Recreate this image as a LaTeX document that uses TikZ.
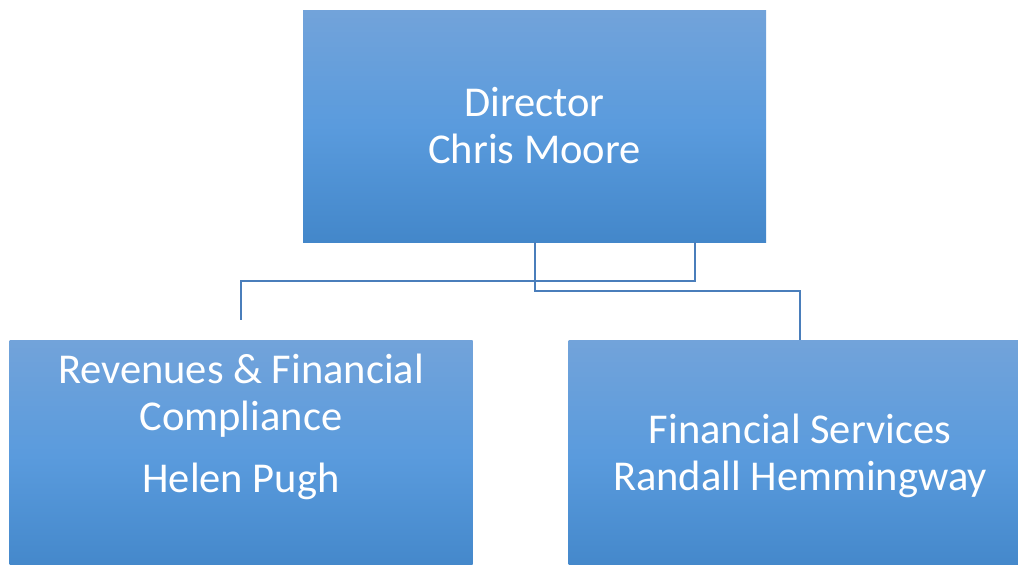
\documentclass[tikz,border=0pt]{standalone}
\usepackage{fontspec}
\setmainfont{Carlito}
\usetikzlibrary{positioning}
\definecolor{boxtop}{HTML}{72A3DA}
\definecolor{boxmid}{HTML}{5A9BDD}
\definecolor{boxbot}{HTML}{4387CA}
\definecolor{linkblue}{HTML}{4A7EBB}

\begin{document}
\begin{tikzpicture}[x=1pt,y=-1pt,
  orgbox/.style={rectangle, inner sep=0pt, minimum width=463pt, minimum height=232pt,
    top color=boxtop, bottom color=boxbot, middle color=boxmid,
    text=white, align=center, font=\fontsize{42.5}{47}\selectfont},
  orglabel/.style={inner sep=0pt, text=white, align=center, font=\fontsize{42.5}{47}\selectfont},
  link/.style={draw=linkblue, line width=2pt}]
\useasboundingbox (0,0) rectangle (1018,565);
\node[orgbox] (dir) at (534.5,126) {Director\\Chris Moore};
\node[orgbox] (rev) at (241,456) {};
\node[orglabel] (rev-name) at ([yshift=29pt]rev.center) {Revenues \& Financial\\Compliance\\[15pt]Helen Pugh};
\node[orgbox] (fin) at (800,456) {Financial Services\\Randall Hemmingway};
\coordinate (rev-stub) at ([yshift=20pt]rev.north);
\draw[link] (dir.south) -- ++(0,49) -| (fin.north);
\draw[link] ([xshift=160pt]dir.south) -- ++(0,39) -| (rev-stub);
\end{tikzpicture}
\end{document}
